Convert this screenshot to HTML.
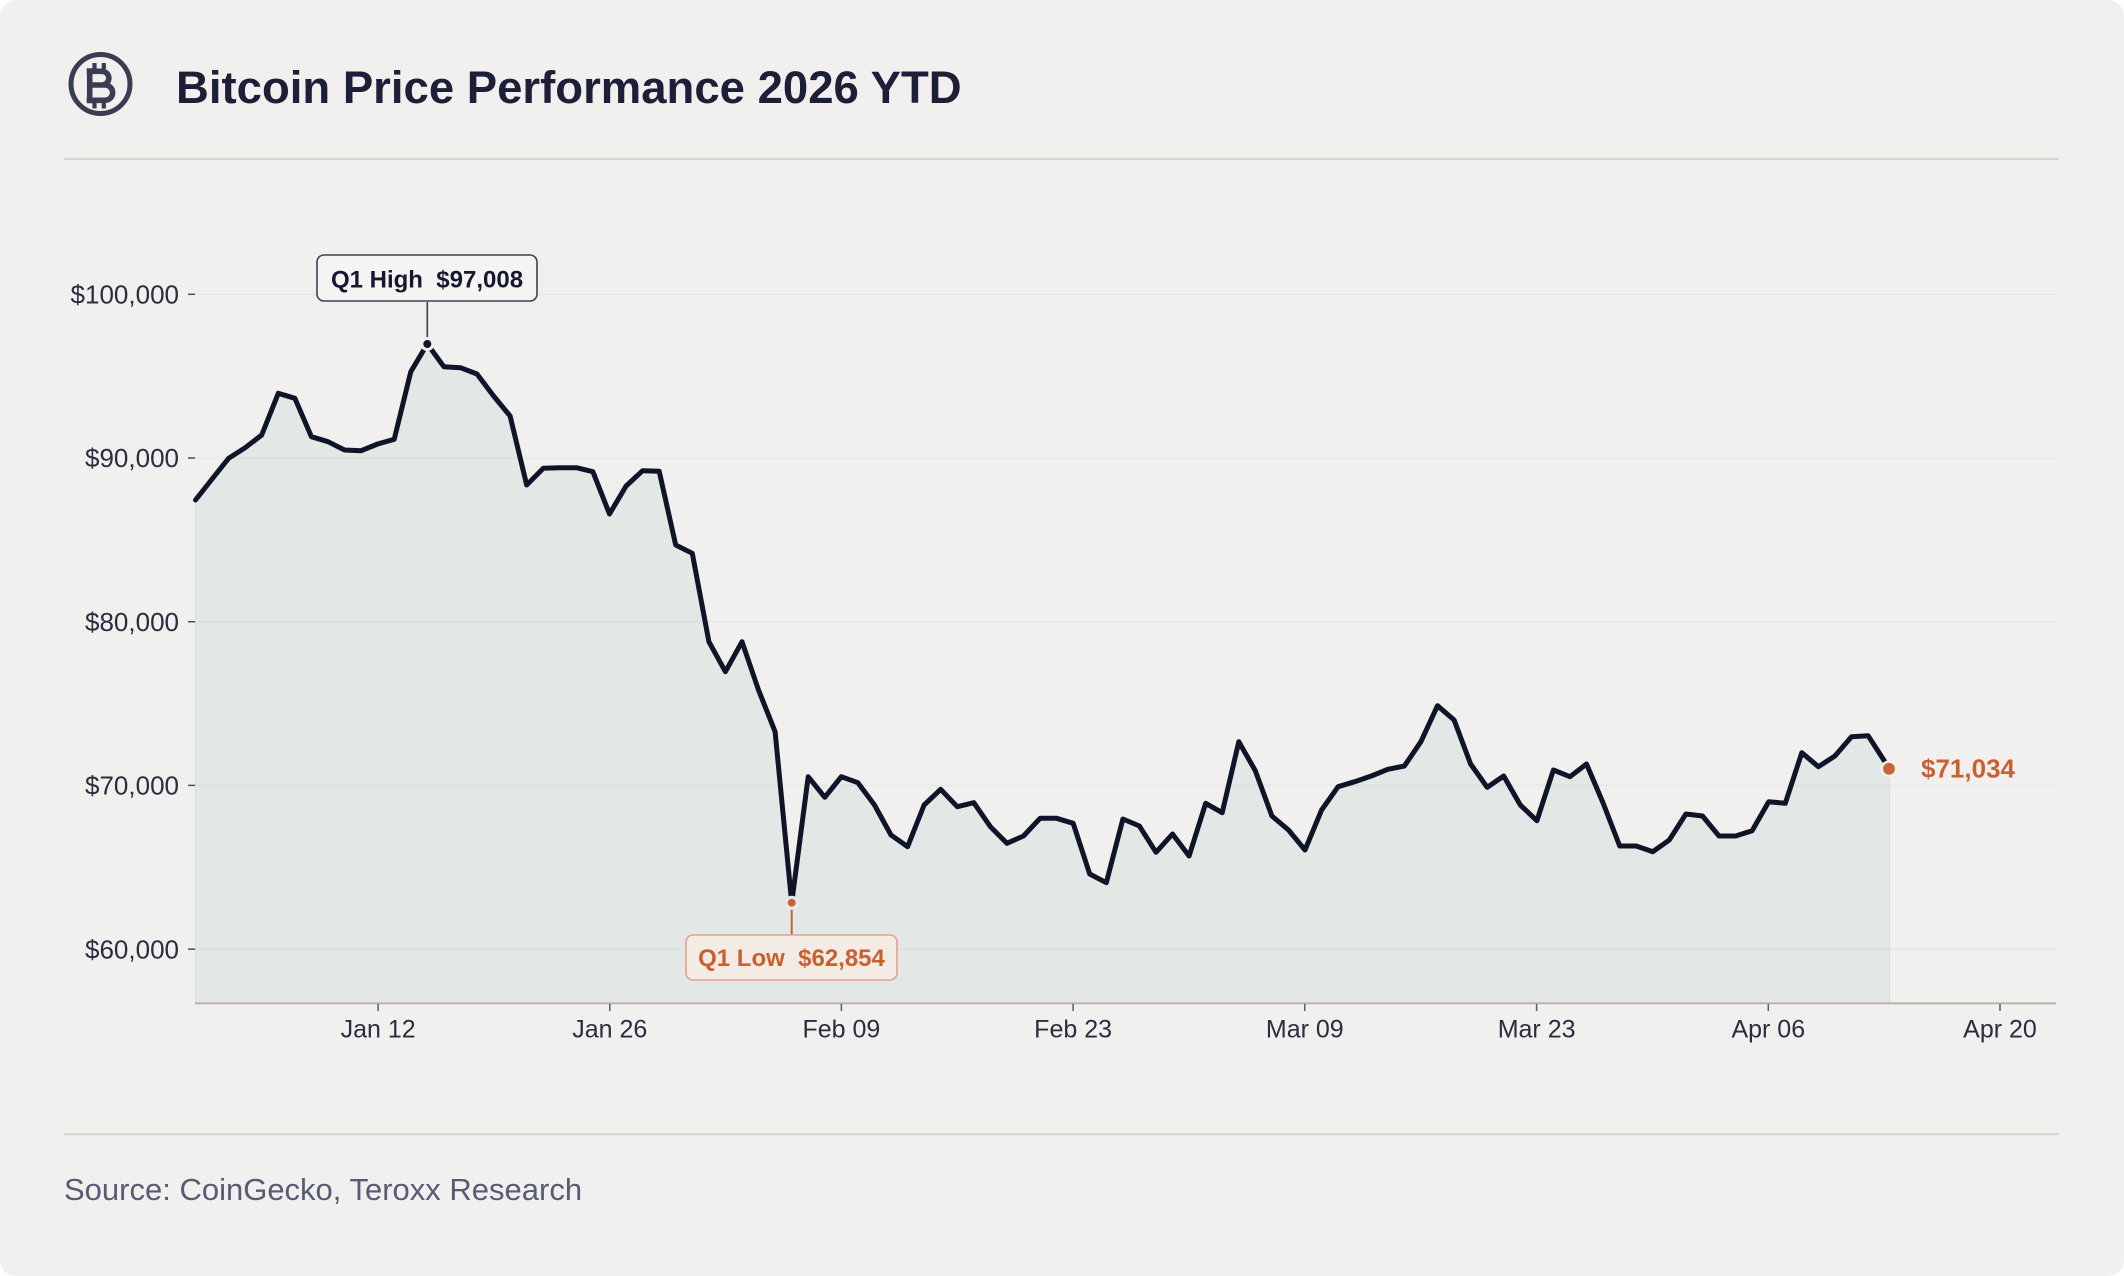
<!DOCTYPE html>
<html>
<head>
<meta charset="utf-8">
<style>
  html,body{margin:0;padding:0;background:#ffffff;}
  body{width:2124px;height:1276px;overflow:hidden;}
  svg{display:block;}
  text{font-family:"Liberation Sans", "DejaVu Sans", sans-serif;}
</style>
</head>
<body>
<svg width="2124" height="1276" viewBox="0 0 2124 1276" xmlns="http://www.w3.org/2000/svg">
  <rect x="0" y="0" width="2124" height="1276" fill="#ffffff"/>
  <rect x="0" y="0" width="2124" height="1276" rx="16" ry="16" fill="#f1f0ee"/>

  <!-- Bitcoin icon -->
  <circle cx="100.5" cy="84" r="29.5" fill="none" stroke="#3a3d52" stroke-width="5"/>
  <path d="M89.7 68.3 V103.3 M86.7 71.3 H102 a6.85 6.85 0 0 1 0 13.7 H89.7 M89.7 85 H105 a7.65 7.65 0 0 1 0 15.3 H86.7" fill="none" stroke="#3a3d52" stroke-width="5.6" stroke-linejoin="round"/>
  <path d="M94.5 63 V69 M103.8 63 V69 M94.5 102.5 V108.5 M103.8 102.5 V108.5" fill="none" stroke="#3a3d52" stroke-width="4.2"/>

  <!-- Title -->
  <text x="176" y="103" font-size="45.5" font-weight="700" fill="#1c1f37">Bitcoin Price Performance 2026 YTD</text>

  <!-- dividers -->
  <line x1="64" y1="159" x2="2059" y2="159" stroke="#d9d4ce" stroke-width="2"/>
  <line x1="64" y1="1134.3" x2="2059" y2="1134.3" stroke="#d9d4ce" stroke-width="2"/>

  <!-- area fill -->
  <polygon fill="#e3e7e6" stroke="#d9dfdf" stroke-width="1"
    points="195.5,1003 195.5,500 212.1,479 228.6,458.3 245.2,447.7 261.7,435 278.3,393.3 294.9,398.3 311.4,436.7 328,441.7 344.5,450 361.1,450.7 377.7,444 394.2,439.3 410.8,371.7 427.3,344 443.9,366.7 460.5,367.7 477,374 493.6,396 510.1,416 526.7,485 543.3,468.3 559.8,467.7 576.4,467.7 592.9,471.7 609.5,514 626.1,486 642.6,470.7 659.2,471.3 675.7,545 692.3,553.3 708.9,641.7 725.4,671.7 742,641.7 758.5,690 775.1,731.7 791.7,902.7 808.2,776.7 824.8,797.3 841.3,776.7 857.9,782.7 874.5,805 891,835 907.6,846.7 924.1,805 940.7,789.3 957.3,806.7 973.8,802.7 990.4,826.7 1006.9,843.3 1023.5,836 1040.1,818.3 1056.6,818.3 1073.2,823.3 1089.7,874 1106.3,882.7 1122.9,819 1139.4,826 1156,852.3 1172.5,834 1189.1,856 1205.7,803.3 1222.2,812.7 1238.8,741.7 1255.3,770.7 1271.9,816 1288.5,830 1305,850 1321.6,810 1338.1,786.7 1354.7,781.7 1371.3,776 1387.8,769.3 1404.4,766 1420.9,741.7 1437.5,705.7 1454.1,720 1470.6,764 1487.2,787.3 1503.7,776 1520.3,805 1536.9,820.7 1553.4,770 1570,776.7 1586.5,764 1603.1,803 1619.7,846 1636.2,846 1652.8,851.7 1669.3,840 1685.9,814 1702.5,816 1719,836 1735.6,836 1752.1,830.7 1768.7,801.7 1785.3,803.3 1801.8,752.7 1818.4,766.7 1834.9,756 1851.5,736.7 1868.1,735.7 1889.5,768.8 1889.5,1003"/>

  <!-- gridlines -->
  <g stroke="#000000" stroke-opacity="0.035" stroke-width="1.5">
    <line x1="195" y1="294.3" x2="2056" y2="294.3"/>
    <line x1="195" y1="458" x2="2056" y2="458"/>
    <line x1="195" y1="621.7" x2="2056" y2="621.7"/>
    <line x1="195" y1="785.4" x2="2056" y2="785.4"/>
    <line x1="195" y1="949.1" x2="2056" y2="949.1"/>
  </g>

  <!-- y ticks -->
  <g stroke="#4a4d5c" stroke-width="1.5">
    <line x1="188" y1="294.3" x2="195" y2="294.3"/>
    <line x1="188" y1="458" x2="195" y2="458"/>
    <line x1="188" y1="621.7" x2="195" y2="621.7"/>
    <line x1="188" y1="785.4" x2="195" y2="785.4"/>
    <line x1="188" y1="949.1" x2="195" y2="949.1"/>
  </g>
  <g font-size="26" fill="#2a2d3e" text-anchor="end">
    <text x="179" y="303.5">$100,000</text>
    <text x="179" y="467.2">$90,000</text>
    <text x="179" y="630.9">$80,000</text>
    <text x="179" y="794.6">$70,000</text>
    <text x="179" y="958.3">$60,000</text>
  </g>

  <!-- x axis -->
  <line x1="195" y1="1003.3" x2="2056" y2="1003.3" stroke="#b3afa9" stroke-width="1.8"/>
  <g stroke="#5a5c66" stroke-width="1.5">
    <line x1="378.1" y1="1004" x2="378.1" y2="1011"/>
    <line x1="609.8" y1="1004" x2="609.8" y2="1011"/>
    <line x1="841.4" y1="1004" x2="841.4" y2="1011"/>
    <line x1="1073.1" y1="1004" x2="1073.1" y2="1011"/>
    <line x1="1304.8" y1="1004" x2="1304.8" y2="1011"/>
    <line x1="1536.6" y1="1004" x2="1536.6" y2="1011"/>
    <line x1="1768.3" y1="1004" x2="1768.3" y2="1011"/>
    <line x1="2000" y1="1004" x2="2000" y2="1011"/>
  </g>
  <g font-size="25" fill="#2a2d3e" text-anchor="middle">
    <text x="378.1" y="1037.5">Jan 12</text>
    <text x="609.8" y="1037.5">Jan 26</text>
    <text x="841.4" y="1037.5">Feb 09</text>
    <text x="1073.1" y="1037.5">Feb 23</text>
    <text x="1304.8" y="1037.5">Mar 09</text>
    <text x="1536.6" y="1037.5">Mar 23</text>
    <text x="1768.3" y="1037.5">Apr 06</text>
    <text x="2000" y="1037.5">Apr 20</text>
  </g>

  <!-- price line -->
  <polyline fill="none" stroke="#0f1428" stroke-width="5" stroke-linejoin="round" stroke-linecap="round"
    points="195.5,500 212.1,479 228.6,458.3 245.2,447.7 261.7,435 278.3,393.3 294.9,398.3 311.4,436.7 328,441.7 344.5,450 361.1,450.7 377.7,444 394.2,439.3 410.8,371.7 427.3,344 443.9,366.7 460.5,367.7 477,374 493.6,396 510.1,416 526.7,485 543.3,468.3 559.8,467.7 576.4,467.7 592.9,471.7 609.5,514 626.1,486 642.6,470.7 659.2,471.3 675.7,545 692.3,553.3 708.9,641.7 725.4,671.7 742,641.7 758.5,690 775.1,731.7 791.7,902.7 808.2,776.7 824.8,797.3 841.3,776.7 857.9,782.7 874.5,805 891,835 907.6,846.7 924.1,805 940.7,789.3 957.3,806.7 973.8,802.7 990.4,826.7 1006.9,843.3 1023.5,836 1040.1,818.3 1056.6,818.3 1073.2,823.3 1089.7,874 1106.3,882.7 1122.9,819 1139.4,826 1156,852.3 1172.5,834 1189.1,856 1205.7,803.3 1222.2,812.7 1238.8,741.7 1255.3,770.7 1271.9,816 1288.5,830 1305,850 1321.6,810 1338.1,786.7 1354.7,781.7 1371.3,776 1387.8,769.3 1404.4,766 1420.9,741.7 1437.5,705.7 1454.1,720 1470.6,764 1487.2,787.3 1503.7,776 1520.3,805 1536.9,820.7 1553.4,770 1570,776.7 1586.5,764 1603.1,803 1619.7,846 1636.2,846 1652.8,851.7 1669.3,840 1685.9,814 1702.5,816 1719,836 1735.6,836 1752.1,830.7 1768.7,801.7 1785.3,803.3 1801.8,752.7 1818.4,766.7 1834.9,756 1851.5,736.7 1868.1,735.7 1889.5,768.8"/>

  <!-- Q1 High annotation -->
  <line x1="427.3" y1="302" x2="427.3" y2="340" stroke="#3c3f50" stroke-width="1.6"/>
  <circle cx="427.3" cy="344" r="5.5" fill="#0f1428" stroke="#f1f0ee" stroke-width="3"/>
  <rect x="317" y="255" width="220" height="46" rx="7" ry="7" fill="#f5f4f2" stroke="#3d4052" stroke-width="1.6"/>
  <text x="427" y="287.5" font-size="24" font-weight="700" fill="#141830" text-anchor="middle" style="white-space:pre" xml:space="preserve">Q1 High  $97,008</text>

  <!-- Q1 Low annotation -->
  <line x1="791.7" y1="906" x2="791.7" y2="935" stroke="#c9633a" stroke-width="2"/>
  <circle cx="791.7" cy="902.7" r="5.5" fill="#c9633a" stroke="#e8ebea" stroke-width="3"/>
  <rect x="686" y="935" width="211" height="45" rx="7" ry="7" fill="#f4ebe5" stroke="#e0a488" stroke-width="1.6"/>
  <text x="791.5" y="966" font-size="24" font-weight="700" fill="#c8602f" text-anchor="middle" style="white-space:pre" xml:space="preserve">Q1 Low  $62,854</text>

  <!-- End point -->
  <circle cx="1889" cy="768.8" r="7.2" fill="#c9633a" stroke="#f1f0ee" stroke-width="2.5"/>
  <text x="1921" y="777.5" font-size="26" font-weight="700" fill="#c8602f">$71,034</text>

  <!-- Source -->
  <text x="64" y="1200" font-size="31" fill="#575c73">Source: CoinGecko, Teroxx Research</text>
</svg>
</body>
</html>
